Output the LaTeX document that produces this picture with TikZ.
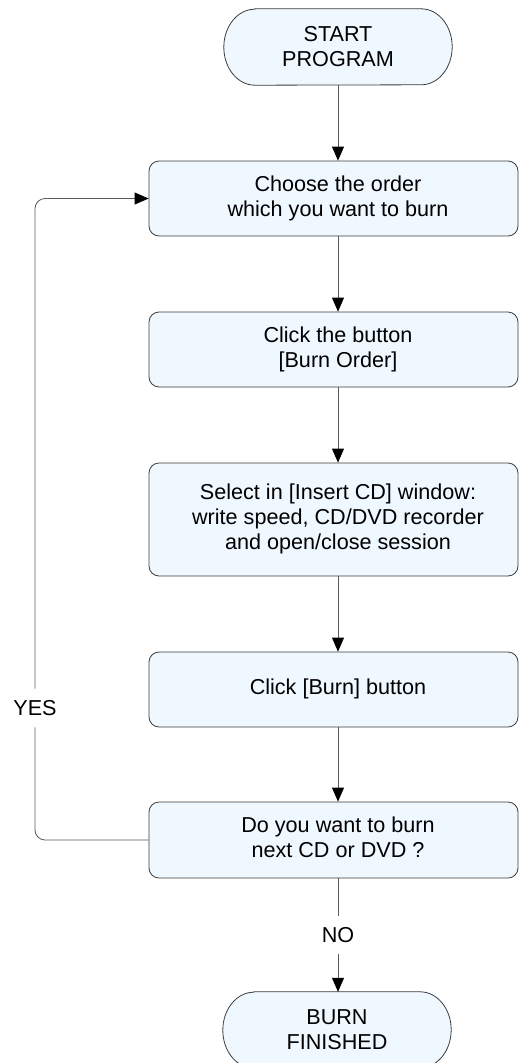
\documentclass[tikz,border=0pt]{standalone}
\usepackage{fontspec}
\setmainfont{Liberation Sans}
\usetikzlibrary{arrows.meta}
\pgfdeclarelayer{background}
\pgfsetlayers{background,main}
\definecolor{boxfill}{RGB}{240,248,255}
\definecolor{boxline}{RGB}{60,60,60}
\definecolor{connline}{RGB}{90,90,90}
\newcommand\shiftedtext[1]{\hspace*{9pt}\begin{tabular}{@{}c@{}}#1\end{tabular}}
\tikzset{
  txt/.style={font=\fontsize{21.6}{25}\selectfont, text=black},
  stepbox/.style={txt, draw=boxline, fill=boxfill, line width=0.8pt, rounded corners=10pt,
                  minimum width=369pt, inner sep=0pt},
  term/.style={txt, draw=none, minimum width=228pt, minimum height=76pt, inner sep=0pt, align=center},
  termshape/.style={draw=boxline, fill=boxfill, line width=0.8pt},
  lbl/.style={txt, inner xsep=2pt, inner ysep=11.5pt},
  conn/.style={draw=connline, line width=0.8pt},
  arr/.style={conn, -{Triangle[width=12pt,length=14pt,black]}}
}
\begin{document}
\begin{tikzpicture}[x=1pt,y=1pt]
\useasboundingbox (0,0) rectangle (519,-1063);
\node[term] (s) at (338,-47) {START\\PROGRAM};
\node[stepbox, minimum height=75pt] (b1) at (333.5,-198.5) {\shiftedtext{Choose the order\\which you want to burn}};
\node[stepbox, minimum height=75pt] (b2) at (333.5,-349.5) {\shiftedtext{Click the button\\{[}Burn Order{]}}};
\node[stepbox, minimum height=113pt] (b3) at (333.5,-519.5) {\shiftedtext{Select in [Insert CD] window:\\write speed, CD/DVD recorder\\and open/close session}};
\node[stepbox, minimum height=75pt] (b4) at (333.5,-689.5) {\shiftedtext{Click [Burn] button}};
\node[stepbox, minimum height=76pt] (b5) at (333.5,-840) {\shiftedtext{Do you want to burn\\next CD or DVD ?}};
\node[term] (e) at (337,-1030) {BURN\\FINISHED};
\node[lbl] (no) at (338,-935) {NO};
\node[lbl] (yes) at (35,-708) {YES};
\begin{pgfonlayer}{background}
\foreach \n in {s,e}
  \draw[termshape] ([xshift=31pt]\n.north west) -- ([xshift=-31pt]\n.north east)
    arc[start angle=90,end angle=-90,x radius=31pt,y radius=38pt]
    -- ([xshift=31pt]\n.south west)
    arc[start angle=270,end angle=90,x radius=31pt,y radius=38pt] -- cycle;
\end{pgfonlayer}
\draw[arr] (s.south) -- (b1.north -| s);
\draw[arr] (b1.south -| s) -- (b2.north -| s);
\draw[arr] (b2.south -| s) -- (b3.north -| s);
\draw[arr] (b3.south -| s) -- (b4.north -| s);
\draw[arr] (b4.south -| s) -- (b5.north -| s);
\draw[conn] (b5.south -| no) -- (no);
\draw[arr] (no) -- (e.north -| no);
\draw[conn, rounded corners=10pt] (b5.west) -| (yes);
\draw[arr, rounded corners=10pt] (yes) |- (b1.west);
\end{tikzpicture}
\end{document}
